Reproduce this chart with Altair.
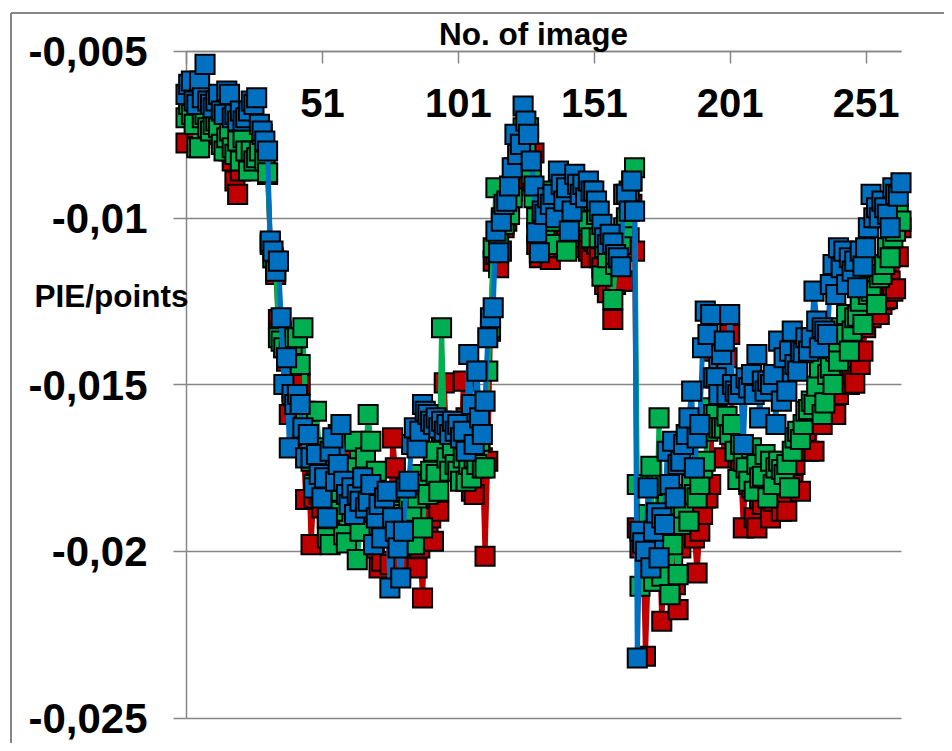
import altair as alt
import pandas as pd

# Values, in thousandths of a point, one entry per image (1..264)
red_values = [
    -7.76,-6.8,-6.7,-7.0,-7.3,-7.0,-7.2,-6.6,-7.2,-7.5,
    -7.4,-7.3,-7.5,-7.6,-7.4,-7.7,-8.0,-8.3,-8.9,-9.3,
    -8.6,-8.3,-8.1,-8.0,-7.8,-7.9,-7.6,-8.0,-8.2,-8.4,
    -8.7,-10.75,-11.2,-11.7,-13.05,-13.4,-13.9,-14.3,-15.9,-15.2,
    -14.8,-15.7,-15.0,-16.5,-18.45,-17.1,-19.8,-18.4,-17.4,-18.3,
    -18.7,-18.0,-19.0,-17.6,-18.2,-17.2,-16.5,-16.9,-18.9,-17.6,
    -19.0,-18.7,-19.4,-18.9,-17.9,-18.2,-19.3,-18.8,-19.0,-19.9,
    -19.6,-20.5,-20.3,-19.1,-19.0,-20.4,-16.6,-17.5,-19.5,-20.0,
    -20.4,-19.5,-18.9,-18.4,-19.3,-20.5,-19.9,-21.4,-19.6,-19.3,
    -19.0,-19.7,-18.4,-18.8,-16.5,-14.95,-16.9,-17.4,-17.0,-17.5,
    -16.8,-17.3,-14.9,-16.0,-17.4,-18.2,-18.3,-17.5,-16.7,-17.2,
    -20.15,-17.3,-13.4,-11.3,-11.1,-11.5,-11.0,-10.3,-10.1,-9.7,
    -9.2,-8.6,-8.9,-8.3,-7.9,-8.1,-7.7,-8.8,-8.06,-10.8,
    -11.2,-10.3,-10.6,-11.0,-11.25,-10.5,-10.9,-10.0,-10.4,-10.9,
    -10.3,-10.9,-10.6,-9.9,-10.1,-10.3,-10.6,-10.1,-11.0,-11.2,
    -10.7,-10.8,-11.2,-11.5,-12.0,-12.25,-11.5,-13.05,-12.0,-11.7,
    -11.9,-11.9,-10.3,-10.6,-9.6,-11.0,-19.3,-19.9,-19.6,-23.15,
    -20.7,-20.0,-19.3,-20.9,-19.6,-22.1,-20.5,-20.0,-19.5,-20.1,
    -21.0,-21.75,-19.9,-19.4,-19.0,-18.9,-19.5,-19.6,-20.65,-19.4,
    -18.9,-18.4,-18.4,-18.0,-14.0,-15.9,-14.5,-16.0,-17.2,-14.2,
    -13.5,-16.2,-17.0,-17.2,-17.5,-19.3,-17.5,-18.0,-18.1,-19.0,
    -19.3,-18.4,-18.6,-18.1,-17.9,-19.0,-18.5,-17.8,-17.6,-18.8,
    -18.4,-18.8,-17.8,-18.0,-17.4,-17.0,-18.2,-16.8,-16.4,-17.0,
    -16.2,-17.0,-15.6,-15.9,-16.2,-15.7,-15.5,-15.3,-15.0,-15.9,
    -15.3,-14.8,-14.9,-14.5,-15.0,-14.7,-14.96,-14.2,-14.4,-14.0,
    -13.3,-12.9,-13.0,-12.6,-12.8,-12.9,-12.6,-12.46,-12.43,-11.9,
    -12.2,-12.13,-11.17,-10.3,
]
green_values = [
    -7.0,-6.6,-6.9,-7.2,-7.9,-7.9,-7.0,-6.9,-7.3,-7.4,
    -7.2,-7.1,-7.3,-7.8,-8.0,-7.6,-7.4,-7.9,-8.1,-7.7,
    -8.3,-7.6,-8.0,-8.6,-8.0,-8.3,-8.2,-8.0,-7.5,-8.3,
    -8.65,-10.8,-11.2,-11.3,-13.6,-13.7,-13.9,-14.2,-14.0,-13.8,
    -13.6,-13.6,-14.4,-13.3,-15.8,-16.5,-17.3,-18.0,-15.8,-16.9,
    -17.4,-18.3,-19.6,-19.8,-18.8,-18.0,-17.9,-18.2,-19.5,-19.75,
    -17.5,-18.0,-16.7,-20.25,-19.4,-18.4,-17.2,-15.9,-16.7,-18.2,
    -17.6,-18.5,-19.0,-18.3,-19.0,-19.4,-18.8,-19.3,-18.9,-19.6,
    -18.2,-19.0,-18.5,-18.8,-19.8,-18.4,-17.7,-19.3,-18.0,-18.3,
    -17.6,-17.0,-17.7,-18.2,-13.3,-16.1,-17.2,-17.6,-16.9,-17.4,
    -17.6,-17.9,-17.2,-17.9,-17.4,-17.8,-17.2,-17.4,-16.7,-17.5,
    -17.5,-14.6,-13.3,-10.9,-9.1,-10.5,-10.0,-10.2,-9.8,-9.9,
    -9.4,-8.5,-8.5,-7.6,-7.3,-7.8,-7.3,-8.7,-9.4,-10.0,
    -10.9,-10.3,-10.5,-9.2,-10.8,-10.1,-9.6,-9.8,-8.8,-9.3,
    -11.0,-9.8,-10.0,-9.5,-9.1,-10.2,-9.9,-9.4,-10.1,-10.6,
    -9.5,-9.9,-10.6,-11.75,-10.9,-11.2,-10.6,-12.45,-11.4,-11.2,
    -10.8,-10.3,-10.0,-9.2,-8.9,-8.5,-18.0,-21.05,-19.5,-19.6,
    -18.9,-17.45,-20.9,-19.5,-16.0,-20.75,-19.4,-18.6,-21.3,-19.8,
    -19.2,-20.7,-19.2,-18.7,-18.3,-19.1,-18.0,-18.3,-18.4,-18.0,
    -17.5,-17.3,-16.4,-15.7,-15.9,-15.9,-16.3,-16.3,-16.3,-15.95,
    -16.5,-16.2,-17.0,-17.85,-16.8,-17.3,-17.5,-17.9,-16.9,-18.2,
    -17.4,-17.8,-17.75,-17.1,-18.4,-17.3,-18.0,-17.5,-17.3,-17.55,
    -17.7,-17.4,-18.1,-17.0,-16.6,-16.4,-16.65,-16.2,-15.8,-15.75,
    -15.5,-15.6,-15.05,-14.5,-15.9,-15.55,-14.7,-14.5,-15.0,-14.0,
    -14.3,-13.3,-13.5,-12.9,-14.0,-13.4,-13.0,-12.95,-12.5,-13.2,
    -11.6,-12.3,-12.2,-11.5,-12.6,-11.8,-11.7,-11.4,-10.9,-11.2,
    -10.6,-10.4,-9.9,-10.1,
]
blue_values = [
    -6.3,-6.0,-5.9,-6.5,-6.6,-5.9,-6.4,-5.4,-6.5,-6.6,
    -6.7,-6.5,-6.3,-6.8,-6.9,-6.2,-6.3,-7.0,-6.9,-7.1,
    -6.8,-7.1,-7.0,-6.8,-6.5,-6.6,-6.4,-7.2,-7.4,-7.7,
    -8.0,-10.7,-11.0,-11.6,-11.3,-13.0,-15.0,-14.2,-16.9,-15.3,
    -15.6,-15.3,-15.6,-16.3,-17.2,-16.5,-17.2,-18.1,-17.1,-17.7,
    -18.4,-17.8,-19.0,-17.0,-16.6,-17.9,-17.4,-16.2,-17.9,-18.3,
    -18.6,-18.1,-18.9,-18.3,-18.5,-17.8,-18.7,-18.5,-18.0,-19.8,
    -19.0,-18.6,-19.6,-18.4,-18.2,-21.1,-19.0,-19.4,-19.9,-20.8,
    -19.4,-18.1,-17.9,-16.8,-16.3,-16.9,-16.4,-15.6,-15.8,-15.9,
    -16.1,-16.2,-16.0,-16.3,-16.1,-16.4,-16.2,-16.5,-16.1,-16.4,
    -16.2,-16.6,-16.4,-17.0,-14.1,-15.6,-16.8,-14.6,-16.0,-16.5,
    -15.5,-13.6,-13.0,-12.7,-10.4,-11.05,-10.1,-9.6,-9.5,-9.05,
    -8.5,-7.5,-8.1,-7.8,-6.65,-7.1,-7.5,-8.3,-9.05,-10.45,
    -11.05,-9.8,-9.9,-9.4,-9.6,-9.3,-10.0,-8.6,-9.0,-9.5,
    -9.1,-10.4,-9.8,-8.7,-9.0,-9.3,-9.0,-9.4,-8.9,-9.2,
    -9.2,-9.5,-9.8,-10.2,-10.6,-10.8,-10.5,-10.76,-11.1,-11.2,
    -11.47,-9.3,-9.3,-9.8,-8.9,-9.8,-23.2,-19.4,-19.75,-20.0,
    -18.1,-20.5,-19.4,-18.85,-20.2,-19.0,-19.2,-17.0,-18.0,-16.7,
    -18.4,-17.4,-17.3,-16.8,-16.5,-16.0,-15.2,-17.5,-16.6,-16.2,
    -13.9,-12.8,-13.5,-12.9,-14.8,-14.8,-15.3,-14.1,-13.7,-15.3,
    -12.9,-15.0,-15.2,-15.3,-15.0,-16.8,-14.8,-15.1,-14.7,-15.3,
    -14.1,-16.0,-14.9,-15.2,-14.9,-15.0,-14.7,-16.2,-13.7,-15.5,
    -14.2,-15.2,-14.0,-13.4,-14.4,-14.6,-14.0,-14.05,-13.6,-14.0,
    -13.6,-12.2,-13.1,-13.9,-13.3,-13.4,-13.5,-12.0,-11.4,-12.3,
    -10.9,-11.5,-11.0,-12.0,-11.2,-11.6,-11.3,-12.1,-11.0,-11.45,
    -10.9,-10.3,-9.3,-10.0,-9.7,-10.0,-9.5,-9.7,-9.9,-10.3,
    -9.1,-9.3,-9.35,-8.95,
]
series = [("red", red_values, "#C00000"), ("green", green_values, "#00B050"), ("blue", blue_values, "#0070C0")]
x_ticks = [1, 51, 101, 151, 201, 251]
y_ticks = [-0.005, -0.01, -0.015, -0.02, -0.025]

GREY = "#868686"
FONT = "Liberation Sans"

x_enc = alt.X("image:Q", scale=alt.Scale(domain=[1, 264], nice=False, zero=False),
    axis=alt.Axis(values=x_ticks, format="d", orient="bottom", offset=-667, grid=False,
        domainColor=GREY, domainWidth=1.5, tickColor=GREY, tickWidth=1.5, tickSize=12,
        labelFont=FONT, labelFontWeight="bold", labelFontSize=40, labelColor="black",
        labelPadding=21, labelFlush=False, labelOverlap=False,
        title="No. of image", titleFont=FONT, titleFontWeight="bold", titleFontSize=31.5,
        titleColor="black", titleX=347, titleY=-7, titleBaseline="alphabetic", titleAlign="center"))
y_enc = alt.Y("value:Q", scale=alt.Scale(domain=[-0.025, -0.005], nice=False, zero=False),
    axis=alt.Axis(values=y_ticks, orient="left", grid=True, gridColor=GREY, gridWidth=1.5,
        domainColor=GREY, domainWidth=1.5, tickColor=GREY, tickWidth=1.5, tickSize=13,
        labelExpr="replace(toString(datum.value), '.', ',')",
        labelFont=FONT, labelFontWeight="bold", labelFontSize=42, labelColor="black",
        labelPadding=26, labelOffset=1.5, labelOverlap=False,
        title="PIE/points", titleFont=FONT, titleFontWeight="bold", titleFontSize=31.5,
        titleColor="black", titleAngle=0, titleX=-152, titleY=255,
        titleAlign="left", titleBaseline="alphabetic"))

layers = []
for name, values, colour in series:
    df = pd.DataFrame({"image": range(1, len(values) + 1), "value": [v / 1000 for v in values]})
    base = alt.Chart(df).encode(x=x_enc, y=y_enc)
    layers.append(base.mark_line(color=colour, strokeWidth=5, clip=False))
    layers.append(base.mark_point(shape="square", size=365, filled=True, fill=colour,
                                  stroke="black", strokeWidth=2, opacity=1, clip=False))

frame_left = alt.Chart().mark_rule(color=GREY, strokeWidth=2).encode(
    x=alt.value(-175), y=alt.value(-38), y2=alt.value(720))
frame_top = alt.Chart().mark_rule(color=GREY, strokeWidth=2).encode(
    x=alt.value(-175), x2=alt.value(780), y=alt.value(-38))

chart = alt.layer(frame_left, frame_top, *layers).properties(
    width=715, height=667,
    padding={"left": 178, "top": 43, "right": 43, "bottom": 25},
    autosize=alt.AutoSizeParams(type="none"),
).configure_view(stroke=None)

chart.save("out.html", embed_options={"renderer": "svg", "actions": False})
